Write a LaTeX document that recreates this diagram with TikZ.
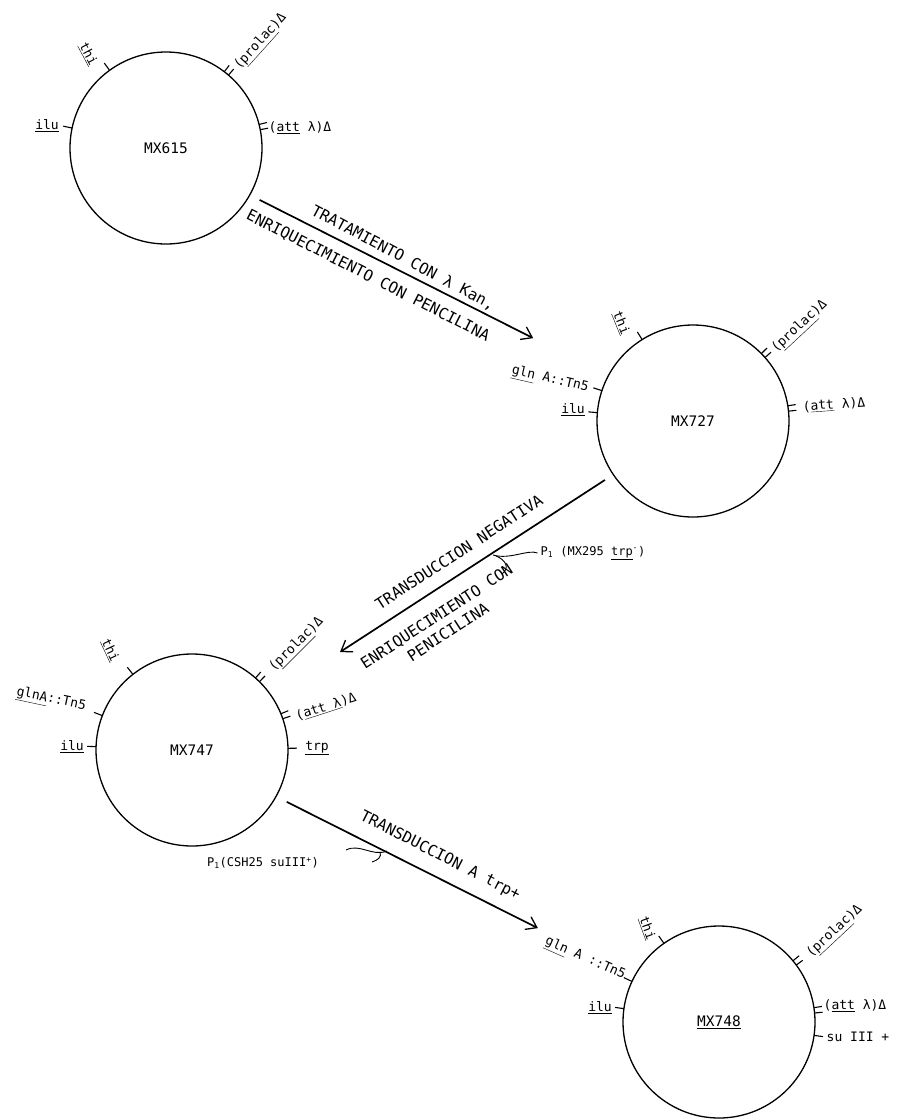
\documentclass[tikz,border=0pt]{standalone}
\usepackage{fontspec}
\setmainfont{DejaVu Sans Mono}
\usetikzlibrary{calc,arrows.meta}
\begin{document}
\begin{tikzpicture}[x=1pt,y=1pt,
  plasmid/.style={circle,draw,line width=1.3pt,minimum size=192pt,inner sep=0pt,
    font=\fontsize{14.5}{14.5}\selectfont},
  lbl/.style={inner sep=0pt,font=\fontsize{13}{13}\selectfont},
  plbl/.style={inner sep=0pt,font=\fontsize{12}{12}\selectfont},
  steptext/.style={inner sep=0pt,font=\fontsize{15.5}{18}\selectfont,align=center},
  tickline/.style={line width=1.1pt},
  flow/.style={line width=1.7pt,-{Straight Barb[length=10pt,width=14pt,line width=1.3pt]}},
  pointer/.style={line width=0.9pt},
]
\useasboundingbox (0,0) rectangle (903,-1120);

% plasmids
\node[plasmid] (c1) at (166,-148) {MX615};
\node[plasmid] (c2) at (693,-421) {MX727};
\node[plasmid] (c3) at (192,-750) {MX747};
\node[plasmid] (c4) at (719,-1022) {\underline{MX748}};

% single ticks
\foreach \c/\a in {c1/126,c1/168,c2/122,c2/161.6,c2/175,c3/128,c3/159,c3/178,c3/1,c4/125,c4/155,c4/172,c4/-8}
  \draw[tickline] ($(\c.center)+(\a:96)$) -- ($(\c.center)+(\a:105)$);
% double ticks
\foreach \c/\a in {c1/51,c1/12.6,c2/43,c2/7.5,c3/47,c3/20.6,c4/38,c4/7}
  \foreach \d in {-1.6,1.6}
  {\pgfmathsetmacro\ang{\a+\d}
   \draw[tickline] ($(\c.center)+(\ang:96)$) -- ($(\c.center)+(\ang:104)$);}

% labels circle 1
\node[lbl,rotate=-62] (l1thi) at (88,-54) {\underline{thi}};
\node[lbl,rotate=48] (l1pro) at (261,-42) {(\underline{prolac})Δ};
\node[lbl] (l1att) at (300,-128) {(\underline{att} λ)Δ};
\node[lbl] (l1ilu) at (47,-126) {\underline{ilu}};

% labels circle 2
\node[lbl,rotate=-68] (l2thi) at (621,-323) {\underline{thi}};
\node[lbl,rotate=43] (l2pro) at (800,-327) {(\underline{prolac})Δ};
\node[lbl,rotate=4] (l2att) at (834,-405) {(\underline{att} λ)Δ};
\node[lbl,rotate=-13] (l2gln) at (550,-380) {\underline{gln} A::Tn5};
\node[lbl] (l2ilu) at (573,-410) {\underline{ilu}};

% labels circle 3
\node[lbl,rotate=-65] (l3thi) at (110,-650) {\underline{thi}};
\node[lbl,rotate=45] (l3pro) at (297,-645) {(\underline{prolac})Δ};
\node[lbl,rotate=18] (l3att) at (326,-707) {(\underline{att λ})Δ};
\node[lbl] (l3trp) at (317,-748) {\underline{trp}};
\node[lbl,rotate=-12] (l3gln) at (51,-700) {\underline{glnA}::Tn5};
\node[lbl] (l3ilu) at (72,-747) {\underline{ilu}};

% labels circle 4
\node[lbl,rotate=-70] (l4thi) at (647,-928) {\underline{thi}};
\node[lbl,rotate=43] (l4pro) at (835,-932) {(\underline{prolac})Δ};
\node[lbl] (l4att) at (855,-1006) {(\underline{att} λ)Δ};
\node[lbl] (l4su) at (858,-1037) {su III +};
\node[lbl,rotate=-24] (l4gln) at (585,-959) {\underline{gln} A ::Tn5};
\node[lbl] (l4ilu) at (600,-1008) {\underline{ilu}};

% step arrows
\draw[flow] ($(c1.center)+(-29:107)$) -- ($(c2.center)+(152.6:180)$);
\draw[flow] ($(c2.center)+(213.8:106)$) -- ($(c3.center)+(33.5:177.5)$);
\draw[flow] ($(c3.center)+(-28.7:108)$) -- ($(c4.center)+(152.6:204)$);

% step texts
\node[steptext,rotate=-28] (s1a) at (403,-258) {TRATAMIENTO CON λ Kan,};
\node[steptext,rotate=-27] (s1b) at (368,-276) {ENRIQUECIMIENTO CON PENCILINA};
\node[steptext,rotate=33] (s2a) at (459,-552) {TRANSDUCCION NEGATIVA};
\node[steptext,rotate=33] (s2b) at (437,-617) {ENRIQUECIMIENTO CON};
\node[steptext,rotate=33] (s2c) at (448,-632) {PENICILINA};
\node[steptext,rotate=-27] (s3a) at (440,-856) {TRANSDUCCION A trp+};

% donor phage labels and pointers
\node[plbl] (pa) at (593,-553) {P\textsubscript{1} (MX295 \underline{trp}\textsuperscript{-})};
\draw[pointer] ([xshift=-3pt]pa.west) .. controls (528,-549) and (510,-560) .. (493,-555);
\draw[pointer] (496,-556) .. controls (506,-560) and (510,-568) .. (502,-574);

\node[plbl] (pb) at (263,-863) {P\textsubscript{1}(CSH25 suIII\textsuperscript{+})};
\draw[pointer] (346,-850) .. controls (360,-843) and (372,-857) .. (387,-851);
\draw[pointer] (380,-852) .. controls (382,-857) and (378,-860) .. (372,-862);
\end{tikzpicture}
\end{document}
